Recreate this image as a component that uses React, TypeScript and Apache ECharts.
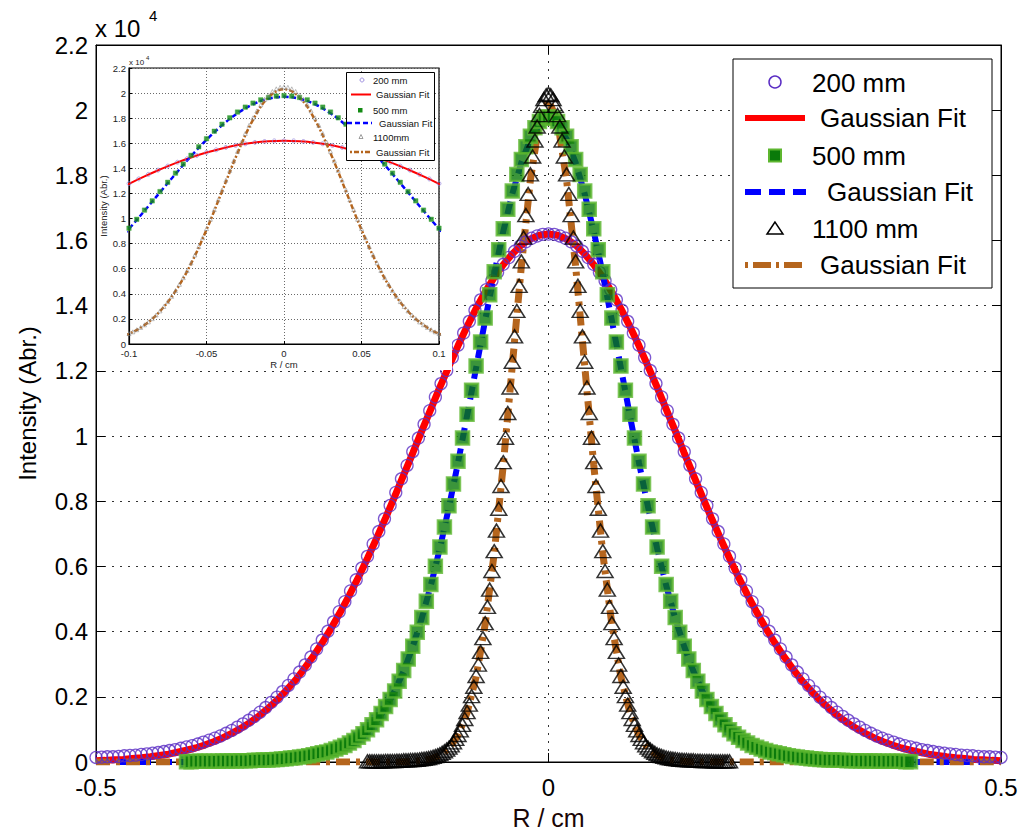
import React, { useEffect, useRef } from "react";
import * as echarts from "echarts";

// ---------- data (intensity in units of 10^4) ----------
// 200 mm measurement: R from -0.5 to 0.5 cm, step 0.00625 cm
const R200_START = -0.5;
const R200_STEP = 0.00625;
const I200 = [
  0.014,0.015,0.016,0.016,0.017,0.019,0.020,0.021,0.023,0.025,
  0.027,0.029,0.032,0.035,0.038,0.042,0.046,0.050,0.055,0.061,
  0.067,0.073,0.080,0.088,0.097,0.107,0.117,0.128,0.140,0.153,
  0.167,0.183,0.199,0.216,0.235,0.255,0.276,0.298,0.322,0.347,
  0.374,0.401,0.430,0.461,0.492,0.525,0.559,0.595,0.631,0.669,
  0.707,0.746,0.787,0.827,0.869,0.910,0.952,0.994,1.036,1.078,
  1.120,1.161,1.201,1.241,1.279,1.316,1.352,1.386,1.418,1.449,
  1.477,1.503,1.527,1.548,1.567,1.583,1.596,1.607,1.614,1.619,
  1.620,
  1.619,1.614,1.607,1.596,1.583,1.567,1.548,1.527,1.503,1.477,
  1.449,1.418,1.386,1.352,1.316,1.279,1.241,1.201,1.161,1.120,
  1.078,1.036,0.994,0.952,0.910,0.869,0.827,0.787,0.746,0.707,
  0.669,0.631,0.595,0.559,0.525,0.492,0.461,0.430,0.401,0.374,
  0.347,0.322,0.298,0.276,0.255,0.235,0.216,0.199,0.183,0.167,
  0.153,0.140,0.128,0.117,0.107,0.097,0.088,0.080,0.073,0.067,
  0.061,0.055,0.050,0.046,0.042,0.038,0.035,0.032,0.029,0.027,
  0.025,0.023,0.021,0.020,0.019,0.017,0.016,0.016,0.015,0.014,
];

// 500 mm measurement: R from -0.4 to 0.4 cm, step 0.005 cm
const R500_START = -0.4;
const R500_STEP = 0.005;
const I500 = [
  0.001,0.001,0.002,0.002,0.002,0.002,0.002,0.002,0.003,0.003,
  0.003,0.003,0.004,0.004,0.004,0.005,0.005,0.006,0.006,0.007,
  0.008,0.009,0.010,0.012,0.013,0.015,0.017,0.019,0.022,0.025,
  0.028,0.031,0.035,0.040,0.045,0.051,0.058,0.066,0.076,0.087,
  0.099,0.114,0.130,0.149,0.170,0.192,0.218,0.248,0.281,0.316,
  0.355,0.398,0.443,0.493,0.545,0.601,0.660,0.721,0.786,0.853,
  0.923,0.994,1.067,1.141,1.215,1.289,1.362,1.434,1.504,1.572,
  1.636,1.696,1.752,1.803,1.849,1.888,1.920,1.946,1.965,1.976,
  1.980,
  1.976,1.965,1.946,1.920,1.888,1.849,1.803,1.752,1.696,1.636,
  1.572,1.504,1.434,1.362,1.289,1.215,1.141,1.067,0.994,0.923,
  0.853,0.786,0.721,0.660,0.601,0.545,0.493,0.443,0.398,0.355,
  0.316,0.281,0.248,0.218,0.192,0.170,0.149,0.130,0.114,0.099,
  0.087,0.076,0.066,0.058,0.051,0.045,0.040,0.035,0.031,0.028,
  0.025,0.022,0.019,0.017,0.015,0.013,0.012,0.010,0.009,0.008,
  0.007,0.006,0.006,0.005,0.005,0.004,0.004,0.004,0.003,0.003,
  0.003,0.003,0.002,0.002,0.002,0.002,0.002,0.002,0.001,0.001,
];

// 1100 mm measurement: R from -0.2 to 0.2 cm, step 0.0025 cm
const R1100_START = -0.2;
const R1100_STEP = 0.0025;
const I1100 = [
  0.002,0.002,0.002,0.002,0.002,0.002,0.002,0.002,0.003,0.003,
  0.003,0.003,0.003,0.004,0.004,0.004,0.005,0.005,0.005,0.006,
  0.006,0.007,0.007,0.008,0.009,0.010,0.011,0.012,0.014,0.016,
  0.018,0.021,0.024,0.028,0.033,0.038,0.044,0.051,0.060,0.071,
  0.083,0.097,0.114,0.132,0.153,0.176,0.202,0.231,0.264,0.299,
  0.338,0.380,0.426,0.476,0.529,0.586,0.647,0.710,0.777,0.847,
  0.920,0.995,1.071,1.149,1.228,1.306,1.384,1.461,1.536,1.609,
  1.678,1.743,1.803,1.858,1.907,1.950,1.985,2.013,2.034,2.046,
  2.050,
  2.046,2.034,2.013,1.985,1.950,1.907,1.858,1.803,1.743,1.678,
  1.609,1.536,1.461,1.384,1.306,1.228,1.149,1.071,0.995,0.920,
  0.847,0.777,0.710,0.647,0.586,0.529,0.476,0.426,0.380,0.338,
  0.299,0.264,0.231,0.202,0.176,0.153,0.132,0.114,0.097,0.083,
  0.071,0.060,0.051,0.044,0.038,0.033,0.028,0.024,0.021,0.018,
  0.016,0.014,0.012,0.011,0.010,0.009,0.008,0.007,0.007,0.006,
  0.006,0.005,0.005,0.005,0.004,0.004,0.004,0.003,0.003,0.003,
  0.003,0.003,0.002,0.002,0.002,0.002,0.002,0.002,0.002,0.002,
];

// Gaussian fits: R from -0.5 to 0.5 cm, step 0.01 cm
const FIT_START = -0.5;
const FIT_STEP = 0.01;
const FIT200 = [
  0.004,0.005,0.007,0.008,0.011,0.013,0.016,0.020,0.024,0.030,
  0.036,0.043,0.052,0.062,0.074,0.088,0.103,0.121,0.141,0.164,
  0.190,0.219,0.250,0.286,0.324,0.366,0.411,0.460,0.512,0.567,
  0.625,0.686,0.749,0.814,0.881,0.948,1.016,1.083,1.150,1.214,
  1.277,1.336,1.391,1.442,1.487,1.526,1.559,1.586,1.605,1.616,
  1.620,
  1.616,1.605,1.586,1.559,1.526,1.487,1.442,1.391,1.336,1.277,
  1.214,1.150,1.083,1.016,0.948,0.881,0.814,0.749,0.686,0.625,
  0.567,0.512,0.460,0.411,0.366,0.324,0.286,0.250,0.219,0.190,
  0.164,0.141,0.121,0.103,0.088,0.074,0.062,0.052,0.043,0.036,
  0.030,0.024,0.020,0.016,0.013,0.011,0.008,0.007,0.005,0.004,
];
const FIT500 = [
  0,0,0,0,0,0,0,0,0,0,
  0,0,0,0,0,0,0,0,0.001,0.001,
  0.002,0.003,0.005,0.008,0.011,0.017,0.024,0.035,0.049,0.068,
  0.093,0.125,0.166,0.217,0.279,0.354,0.441,0.542,0.656,0.782,
  0.918,1.062,1.209,1.355,1.497,1.628,1.743,1.839,1.911,1.955,
  1.970,
  1.955,1.911,1.839,1.743,1.628,1.497,1.355,1.209,1.062,0.918,
  0.782,0.656,0.542,0.441,0.354,0.279,0.217,0.166,0.125,0.093,
  0.068,0.049,0.035,0.024,0.017,0.011,0.008,0.005,0.003,0.002,
  0.001,0.001,0,0,0,0,0,0,0,0,
  0,0,0,0,0,0,0,0,0,0,
];
const FIT1100 = [
  0,0,0,0,0,0,0,0,0,0,
  0,0,0,0,0,0,0,0,0,0,
  0,0,0,0,0,0,0,0,0,0,
  0,0,0,0,0,0.002,0.004,0.009,0.020,0.042,
  0.082,0.151,0.261,0.422,0.640,0.911,1.216,1.521,1.786,1.966,
  2.030,
  1.966,1.786,1.521,1.216,0.911,0.640,0.422,0.261,0.151,0.082,
  0.042,0.020,0.009,0.004,0.002,0,0,0,0,0,
  0,0,0,0,0,0,0,0,0,0,
  0,0,0,0,0,0,0,0,0,0,
  0,0,0,0,0,0,0,0,0,0,
];

const LEGEND_LABELS = ["200 mm", "Gaussian Fit", "500 mm", "Gaussian Fit", "1100 mm", "Gaussian Fit"];
const INSET_LEGEND_LABELS = ["200 mm", "Gaussian Fit", "500 mm", "Gaussian Fit", "1100mm", "Gaussian Fit"];

// ---------- styling ----------
const FONT = '"Liberation Sans", Arial, Helvetica, sans-serif';
const C_CIRCLE = "#5b2ec4";
const C_RED = "#ff0000";
const C_SQ_FILL = "#0a7a0a";
const C_SQ_EDGE = "#5db62f";
const C_BLUE = "#0000ff";
const C_BROWN = "#b5651d";

const toPairs = (start: number, step: number, ys: number[]) =>
  ys.map((y, i) => [Math.round((start + i * step) * 1e6) / 1e6, y]);

function buildOption() {
  const d200 = toPairs(R200_START, R200_STEP, I200);
  const d500 = toPairs(R500_START, R500_STEP, I500);
  const d1100 = toPairs(R1100_START, R1100_STEP, I1100);
  const f200 = toPairs(FIT_START, FIT_STEP, FIT200);
  const f500 = toPairs(FIT_START, FIT_STEP, FIT500);
  const f1100 = toPairs(FIT_START, FIT_STEP, FIT1100);

  const mainGridLine = { show: true, lineStyle: { color: "#333", width: 1, type: [2, 6] } };
  const insetGridLine = { show: true, lineStyle: { color: "#444", width: 0.8, type: [1, 2] } };

  const mainSeries = (ix: number, iy: number, z: number, inset: boolean) => [
    {
      type: "scatter", xAxisIndex: ix, yAxisIndex: iy, z, silent: true, clip: true,
      data: d200, symbol: "circle", symbolSize: inset ? 4 : 12,
      itemStyle: { color: "rgba(0,0,0,0)", borderColor: inset ? "#8a78d8" : C_CIRCLE, borderWidth: inset ? 0.8 : 1.3 },
    },
    {
      type: "line", xAxisIndex: ix, yAxisIndex: iy, z, silent: true, clip: true,
      data: f200, showSymbol: false, smooth: inset ? 0.4 : false,
      lineStyle: { color: C_RED, width: inset ? 2 : 7 },
    },
    {
      type: "scatter", xAxisIndex: ix, yAxisIndex: iy, z, silent: true, clip: true,
      data: d500, symbol: "rect", symbolSize: inset ? 4.5 : 13,
      itemStyle: inset
        ? { color: "#138a13", borderColor: "#3aa83a", borderWidth: 0.5 }
        : { color: C_SQ_FILL, borderColor: C_SQ_EDGE, borderWidth: 2.5 },
    },
    {
      type: "line", xAxisIndex: ix, yAxisIndex: iy, z, silent: true, clip: true,
      data: f500, showSymbol: false, smooth: inset ? 0.4 : false,
      lineStyle: { color: C_BLUE, width: inset ? 2.5 : 6, type: inset ? [5, 3] : [13, 8] },
    },
    {
      type: "scatter", xAxisIndex: ix, yAxisIndex: iy, z, silent: true, clip: true,
      data: d1100, symbol: "triangle", symbolSize: inset ? [4, 4] : [16, 13],
      itemStyle: { color: "rgba(0,0,0,0)", borderColor: inset ? "#8a8a8a" : "#000", borderWidth: inset ? 0.7 : 1.5 },
    },
    {
      type: "line", xAxisIndex: ix, yAxisIndex: iy, z, silent: true, clip: true,
      data: f1100, showSymbol: false, smooth: inset ? 0.4 : false,
      lineStyle: { color: C_BROWN, width: inset ? 2.5 : 7, type: inset ? [5, 2, 2, 2] : [14, 6, 4, 6] },
    },
  ];

  const graphics: any[] = [
    // white background of the inset picture
    { type: "rect", silent: true, z: 12, shape: { x: 97, y: 46, width: 355, height: 324 }, style: { fill: "#fff" } },
    // main exponent
    { type: "text", silent: true, z: 20, x: 95, y: 28.5, style: { text: "x 10", font: `24px ${FONT}`, fill: "#000", align: "left", verticalAlign: "middle" } },
    { type: "text", silent: true, z: 20, x: 149, y: 15, style: { text: "4", font: `15px ${FONT}`, fill: "#000", align: "left", verticalAlign: "middle" } },
    // inset exponent
    { type: "text", silent: true, z: 20, x: 129, y: 62, style: { text: "x 10", font: `8px ${FONT}`, fill: "#222", align: "left", verticalAlign: "middle" } },
    { type: "text", silent: true, z: 20, x: 146, y: 58, style: { text: "4", font: `6px ${FONT}`, fill: "#222", align: "left", verticalAlign: "middle" } },

    // main legend
    { type: "rect", silent: true, z: 20, shape: { x: 733, y: 59, width: 259, height: 229 }, style: { fill: "#fff", stroke: "#000", lineWidth: 1 } },
    { type: "circle", silent: true, z: 21, shape: { cx: 775, cy: 82, r: 6 }, style: { fill: "none", stroke: C_CIRCLE, lineWidth: 1.5 } },
    { type: "line", silent: true, z: 21, shape: { x1: 745, y1: 118, x2: 805, y2: 118 }, style: { stroke: C_RED, lineWidth: 6 } },
    { type: "rect", silent: true, z: 21, shape: { x: 769, y: 149.5, width: 12, height: 12 }, style: { fill: C_SQ_FILL, stroke: C_SQ_EDGE, lineWidth: 2 } },
    { type: "line", silent: true, z: 21, shape: { x1: 745, y1: 192, x2: 806, y2: 192 }, style: { stroke: C_BLUE, lineWidth: 6, lineDash: [16, 8] } },
    { type: "polygon", silent: true, z: 21, shape: { points: [[775, 222], [767, 234], [783, 234]] }, style: { fill: "none", stroke: "#000", lineWidth: 1.5 } },
    { type: "line", silent: true, z: 21, shape: { x1: 745, y1: 265, x2: 806, y2: 265 }, style: { stroke: C_BROWN, lineWidth: 6, lineDash: [3, 5, 18, 5] } },
  ];
  const mainLegendText = [
    { x: 812, y: 83 }, { x: 820, y: 118 }, { x: 812, y: 156 },
    { x: 827, y: 192 }, { x: 812, y: 229 }, { x: 820, y: 265 },
  ];
  LEGEND_LABELS.forEach((t, i) => {
    graphics.push({
      type: "text", silent: true, z: 21, x: mainLegendText[i].x, y: mainLegendText[i].y,
      style: { text: t, font: `26px ${FONT}`, fill: "#000", align: "left", verticalAlign: "middle" },
    });
  });

  // inset legend
  graphics.push(
    { type: "rect", silent: true, z: 20, shape: { x: 346.5, y: 72.5, width: 88, height: 88 }, style: { fill: "#fff", stroke: "#000", lineWidth: 1 } },
    { type: "circle", silent: true, z: 21, shape: { cx: 362, cy: 80, r: 2 }, style: { fill: "none", stroke: "#8a78d8", lineWidth: 0.8 } },
    { type: "line", silent: true, z: 21, shape: { x1: 351, y1: 94.5, x2: 371, y2: 94.5 }, style: { stroke: C_RED, lineWidth: 2 } },
    { type: "rect", silent: true, z: 21, shape: { x: 358, y: 108, width: 4.5, height: 4.5 }, style: { fill: "#138a13" } },
    { type: "line", silent: true, z: 21, shape: { x1: 347, y1: 123, x2: 372, y2: 123 }, style: { stroke: C_BLUE, lineWidth: 2.5, lineDash: [5, 3] } },
    { type: "polygon", silent: true, z: 21, shape: { points: [[361, 134.5], [359, 138.5], [363, 138.5]] }, style: { fill: "none", stroke: "#777", lineWidth: 0.7 } },
    { type: "line", silent: true, z: 21, shape: { x1: 350, y1: 152, x2: 371, y2: 152 }, style: { stroke: C_BROWN, lineWidth: 2.5, lineDash: [2, 2, 5, 2] } },
  );
  const insetLegendText = [
    { x: 373, y: 80.5 }, { x: 376, y: 94.5 }, { x: 373, y: 110.5 },
    { x: 379, y: 123.5 }, { x: 373, y: 137.5 }, { x: 376, y: 152.5 },
  ];
  INSET_LEGEND_LABELS.forEach((t, i) => {
    graphics.push({
      type: "text", silent: true, z: 21, x: insetLegendText[i].x, y: insetLegendText[i].y,
      style: { text: t, font: `9.5px ${FONT}`, fill: "#111", align: "left", verticalAlign: "middle" },
    });
  });

  return {
    animation: false,
    backgroundColor: "#fff",
    textStyle: { fontFamily: FONT },
    grid: [
      { left: 96, top: 45, width: 905, height: 723, show: true, borderColor: "#000", borderWidth: 1, backgroundColor: "#fff", z: 0 },
      { left: 129, top: 68, width: 310, height: 276, show: true, borderColor: "#000", borderWidth: 1.2, backgroundColor: "rgba(0,0,0,0)", z: 13 },
    ],
    xAxis: [
      {
        gridIndex: 0, type: "value", min: -0.5, max: 0.5, interval: 0.5, position: "bottom",
        axisLine: { show: true, onZero: false, lineStyle: { color: "#000", width: 1 } },
        axisTick: { show: true, inside: true, length: 9, lineStyle: { color: "#000" } },
        axisLabel: { fontSize: 24, lineHeight: 22, color: "#000", fontFamily: FONT, margin: 14 },
        splitLine: mainGridLine,
        name: "R / cm", nameLocation: "middle", nameGap: 43,
        nameTextStyle: { fontSize: 25, color: "#1a0505", fontFamily: FONT },
      },
      {
        gridIndex: 0, type: "value", min: -0.5, max: 0.5, interval: 0.5, position: "top",
        axisLine: { show: true, onZero: false, lineStyle: { color: "#000", width: 1 } },
        axisTick: { show: true, inside: true, length: 9, lineStyle: { color: "#000" } },
        axisLabel: { show: false }, splitLine: { show: false },
      },
      {
        gridIndex: 1, type: "value", min: -0.1, max: 0.1, interval: 0.05, position: "bottom", z: 14,
        axisLine: { show: true, onZero: false, lineStyle: { color: "#000", width: 1.2 } },
        axisTick: { show: true, inside: true, length: 3, lineStyle: { color: "#000" } },
        axisLabel: { fontSize: 9.5, lineHeight: 9, color: "#222", fontFamily: FONT, margin: 5 },
        splitLine: insetGridLine,
        name: "R / cm", nameLocation: "middle", nameGap: 14,
        nameTextStyle: { fontSize: 9.5, color: "#222", fontFamily: FONT },
      },
    ],
    yAxis: [
      {
        gridIndex: 0, type: "value", min: 0, max: 2.2, interval: 0.2, position: "left",
        axisLine: { show: true, onZero: false, lineStyle: { color: "#000", width: 1 } },
        axisTick: { show: true, inside: true, length: 9, lineStyle: { color: "#000" } },
        axisLabel: { fontSize: 24, lineHeight: 18, color: "#000", fontFamily: FONT, margin: 8 },
        splitLine: mainGridLine,
        name: "Intensity (Abr.)", nameLocation: "middle", nameGap: 57, nameRotate: 90,
        nameTextStyle: { fontSize: 24, color: "#000", fontFamily: FONT },
      },
      {
        gridIndex: 0, type: "value", min: 0, max: 2.2, interval: 0.2, position: "right",
        axisLine: { show: true, onZero: false, lineStyle: { color: "#000", width: 1 } },
        axisTick: { show: true, inside: true, length: 9, lineStyle: { color: "#000" } },
        axisLabel: { show: false }, splitLine: { show: false },
      },
      {
        gridIndex: 1, type: "value", min: 0, max: 2.2, interval: 0.2, position: "left", z: 14,
        axisLine: { show: true, onZero: false, lineStyle: { color: "#000", width: 1.2 } },
        axisTick: { show: true, inside: true, length: 3, lineStyle: { color: "#000" } },
        axisLabel: { fontSize: 9.5, lineHeight: 9, color: "#222", fontFamily: FONT, margin: 3 },
        splitLine: insetGridLine,
        name: "Intensity (Abr.)", nameLocation: "middle", nameGap: 20, nameRotate: 90,
        nameTextStyle: { fontSize: 9.5, color: "#222", fontFamily: FONT },
      },
    ],
    series: [...mainSeries(0, 0, 2, false), ...mainSeries(2, 2, 15, true)],
    graphic: { elements: graphics },
  };
}

export default function App() {
  const ref = useRef<HTMLDivElement>(null);
  useEffect(() => {
    if (!ref.current) return;
    const chart = echarts.init(ref.current, undefined, { renderer: "svg" });
    chart.setOption(buildOption() as any);
    return () => chart.dispose();
  }, []);
  return (
    <div
      ref={ref}
      style={{ position: "fixed", left: 0, top: 0, width: 1026, height: 835, background: "#fff" }}
    />
  );
}
